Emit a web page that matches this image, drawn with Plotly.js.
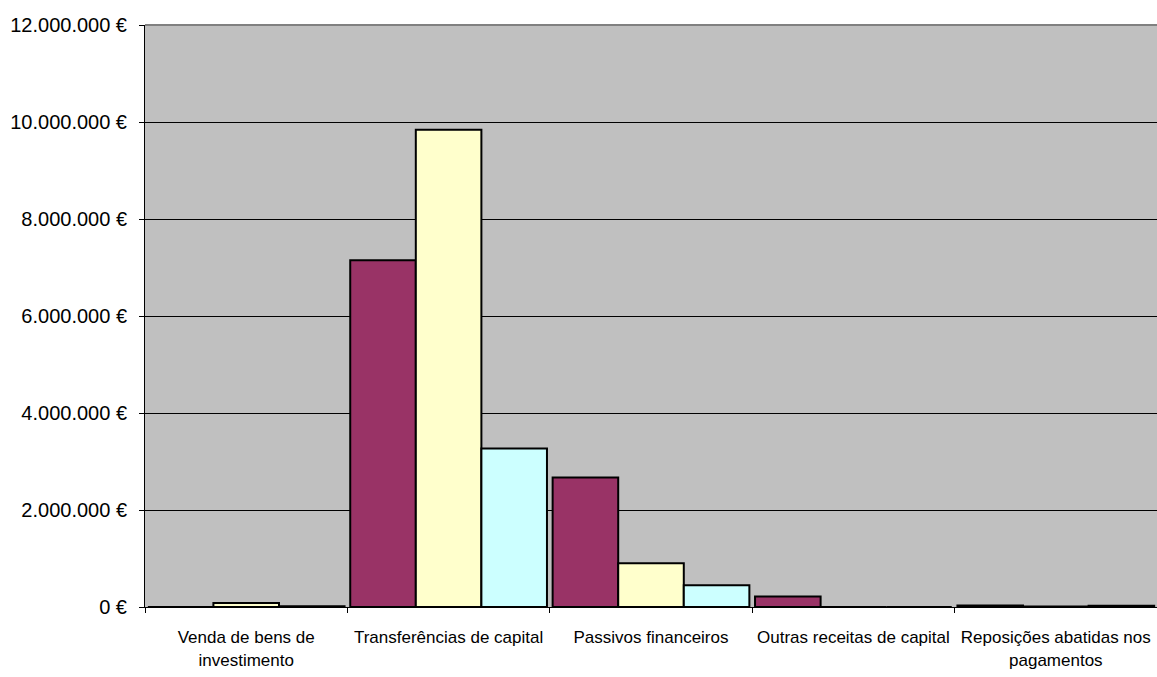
<!DOCTYPE html>
<html>
<head>
<meta charset="utf-8">
<script src="https://cdn.plot.ly/plotly-3.0.1.min.js"></script>
<style>
  html, body { margin: 0; padding: 0; background: #fff; }
  #chart { width: 1157px; height: 677px; }
</style>
</head>
<body>
<div id="chart"></div>
<script>
const categories = [
  'Venda de bens de<br>investimento',
  'Transferências de capital',
  'Passivos financeiros',
  'Outras receitas de capital',
  'Reposições abatidas nos<br>pagamentos',
];

const serie1 = [0, 7150000, 2670000, 215000, 30000];
const serie2 = [85000, 9840000, 900000, 0, 8000];
const serie3 = [15000, 3270000, 450000, 0, 25000];

const yTicks = [0, 2000000, 4000000, 6000000, 8000000, 10000000, 12000000];
const yTickText = ['0 €', '2.000.000 €', '4.000.000 €', '6.000.000 €', '8.000.000 €', '10.000.000 €', '12.000.000 €'];

const COLORS = ['#993366', '#ffffcc', '#ccffff'];

const makeBar = (name, y, color) => ({
  type: 'bar',
  name,
  x: categories,
  y,
  marker: { color, line: { color: '#000', width: 2 } },
  hovertemplate: '%{x}<br>%{y:,d} €<extra></extra>',
});

const data = [
  makeBar('Série 1', serie1, COLORS[0]),
  makeBar('Série 2', serie2, COLORS[1]),
  makeBar('Série 3', serie3, COLORS[2]),
];

const layout = {
  width: 1157,
  height: 677,
  margin: { l: 145, r: 0, t: 25, b: 70 },
  paper_bgcolor: '#fff',
  plot_bgcolor: '#c0c0c0',
  showlegend: false,
  barmode: 'group',
  bargap: 0.028,
  bargroupgap: 0,
  font: { family: 'Liberation Sans, Arial, sans-serif', size: 20, color: '#000' },
  xaxis: {
    type: 'category',
    tickson: 'boundaries',
    ticks: 'outside',
    ticklen: 5,
    tickcolor: '#000',
    tickangle: 0,
    ticklabelstandoff: 15,
    showline: true,
    linecolor: '#000',
    linewidth: 1,
    showgrid: false,
    tickfont: { family: 'Liberation Sans, Arial, sans-serif', size: 17, color: '#000' },
  },
  yaxis: {
    range: [0, 12000000],
    tickmode: 'array',
    tickvals: yTicks,
    ticktext: yTickText,
    ticks: 'outside',
    ticklen: 5,
    tickcolor: '#000',
    ticklabelstandoff: 8,
    showline: true,
    linecolor: '#000',
    linewidth: 1,
    gridcolor: '#000',
    gridwidth: 1,
    zeroline: false,
    tickfont: { family: 'Liberation Sans, Arial, sans-serif', size: 20, color: '#000' },
  },
  shapes: [{
    type: 'line', xref: 'paper', yref: 'paper', x0: 0, x1: 1, y0: 1, y1: 1,
    line: { color: '#808080', width: 2 },
  }],
};

Plotly.newPlot('chart', data, layout, { displayModeBar: false, responsive: false });
</script>
</body>
</html>
